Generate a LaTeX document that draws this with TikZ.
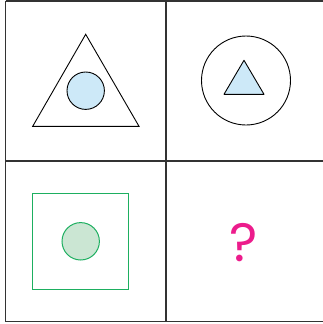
\documentclass[tikz,border=0pt]{standalone}
\usepackage{fontspec}
\newfontfamily\qfont{Poppins}
\usetikzlibrary{positioning,calc}
\definecolor{gridline}{HTML}{333333}
\definecolor{paleblue}{HTML}{CDE9F8}
\definecolor{figgreen}{HTML}{1DAF60}
\definecolor{palegreen}{HTML}{CBE6D3}
\definecolor{qpink}{HTML}{EC1C8C}

\begin{document}
\begin{tikzpicture}[x=1pt,y=-1pt]
\useasboundingbox (0,0) rectangle (323,324);
% grid of four cells, open on the right
\draw[gridline,line width=1.4pt] (5.5,1) -- (323,1);
\draw[gridline,line width=1.4pt] (5.5,161) -- (323,161);
\draw[gridline,line width=1.4pt] (5.5,321.5) -- (323,321.5);
\foreach \x in {5.5,166} {
  \draw[gridline,line width=1.4pt] (\x,1) -- (\x,321.5);
}

% cell 1: big triangle, circle inside
\draw[line width=0.9pt] (85.7,34.3) -- (139,126.3) -- (32.7,126.3) -- cycle;
\draw[line width=0.9pt,fill=paleblue] (85.7,90.7) circle (18.7);

% cell 2: big circle, triangle inside
\draw[line width=0.9pt] (246,80.5) circle (44.5);
\draw[line width=0.9pt,fill=paleblue,line join=round] (244,60.3) -- (264,94.3) -- (224,94.3) -- cycle;

% cell 3: green square, circle inside
\draw[figgreen,line width=1pt] (32.3,193.7) rectangle (128.7,289.3);
\draw[figgreen,line width=1pt,fill=palegreen] (80.7,241.3) circle (18.7);

% cell 4: unknown
\node[text=qpink,font=\qfont\fontsize{54}{54}\selectfont,inner sep=0pt] (q) at (243.5,243) {?};
\end{tikzpicture}
\end{document}
